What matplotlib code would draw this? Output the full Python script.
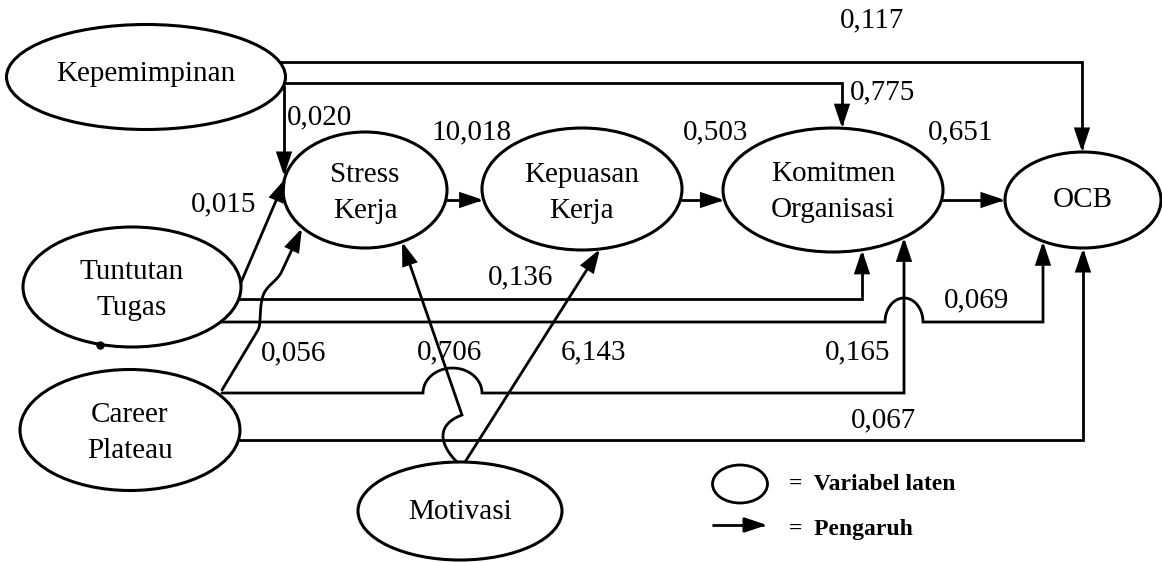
import numpy as np
import matplotlib
matplotlib.use("Agg")
import matplotlib.pyplot as plt
from matplotlib.patches import Ellipse, FancyArrowPatch, ArrowStyle
from matplotlib.path import Path

# ---------------- data ----------------
node_names = ["Kepemimpinan", "Stress\nKerja", "Kepuasan\nKerja",
              "Komitmen\nOrganisasi", "OCB", "Tuntutan\nTugas",
              "Career\nPlateau", "Motivasi"]
path_from = ["Kepemimpinan", "Kepemimpinan", "Kepemimpinan", "Tuntutan\nTugas",
             "Tuntutan\nTugas", "Tuntutan\nTugas", "Career\nPlateau",
             "Career\nPlateau", "Career\nPlateau", "Motivasi", "Motivasi",
             "Stress\nKerja", "Kepuasan\nKerja", "Komitmen\nOrganisasi"]
path_to = ["OCB", "Komitmen\nOrganisasi", "Stress\nKerja", "Stress\nKerja",
           "Komitmen\nOrganisasi", "OCB", "Stress\nKerja",
           "Komitmen\nOrganisasi", "OCB", "Stress\nKerja", "Kepuasan\nKerja",
           "Kepuasan\nKerja", "Komitmen\nOrganisasi", "OCB"]
coefficients = ["0,117", "0,775", "0,020", "0,015", "0,136", "0,069", "0,056",
                "0,165", "0,067", "0,706", "6,143", "10,018", "0,503", "0,651"]
legend_labels = ["=  Variabel laten", "=  Pengaruh"]

# ---------------- layout (pixel space) ----------------
W, H = 1162, 563
geom = {
    "Kepemimpinan": (146, 77, 279, 105),
    "Stress\nKerja": (365, 190, 164, 116),
    "Kepuasan\nKerja": (582, 189, 200, 122),
    "Komitmen\nOrganisasi": (833, 190, 220, 124),
    "OCB": (1083, 200, 156, 96),
    "Tuntutan\nTugas": (132, 287, 218, 120),
    "Career\nPlateau": (130, 430, 220, 121),
    "Motivasi": (460, 511, 204, 98),
}
text_pos = {
    "Kepemimpinan": (146, 74),
    "Stress\nKerja": (365, 193),
    "Kepuasan\nKerja": (582, 193),
    "Komitmen\nOrganisasi": (833, 192),
    "OCB": (1083, 200),
    "Tuntutan\nTugas": (132, 290),
    "Career\nPlateau": (130, 433),
    "Motivasi": (460, 512),
}


def ex(name, y, side):
    cx, cy, w, h = geom[name]
    a, b = w / 2, h / 2
    return cx + side * a * np.sqrt(max(0.0, 1 - ((y - cy) / b) ** 2))


def ey(name, x, side):
    cx, cy, w, h = geom[name]
    a, b = w / 2, h / 2
    return cy + side * b * np.sqrt(max(0.0, 1 - ((x - cx) / a) ** 2))


def jump(x0, x1, y, hgt, n=30):
    t = np.linspace(np.pi, 0, n)
    xc, hw = (x0 + x1) / 2, (x1 - x0) / 2
    return list(zip(xc + hw * np.cos(t), y - hgt * np.sin(t)))


def bez(p0, p1, p2, p3, n=30):
    t = np.linspace(0, 1, n)[:, None]
    p0, p1, p2, p3 = map(np.array, (p0, p1, p2, p3))
    pts = (1 - t) ** 3 * p0 + 3 * (1 - t) ** 2 * t * p1 + 3 * (1 - t) * t ** 2 * p2 + t ** 3 * p3
    return [tuple(p) for p in pts]


K, S, P, KO, O, T, C, M = node_names
routes = [
    [(ex(K, 62, 1), 62), (1082, 62), (1082, ey(O, 1082, -1))],
    [(ex(K, 83, 1), 83), (842, 83), (842, ey(KO, 842, -1))],
    [(284, 86), (284, 176)],
    [(ex(T, 283, 1), 283), (ex(S, 178, -1) + 1, 178)],
    [(ex(T, 299, 1), 299), (862, 299), (862, ey(KO, 862, 1))],
    [(ex(T, 322, 1), 322)] + jump(885, 923, 322, 24) + [(1043, 322), (1043, ey(O, 1043, 1))],
    [(222, 390), (258, 330)]
    + bez((258, 330), (262, 323), (258, 300), (266, 290))[1:]
    + bez((266, 290), (270, 284), (276, 281), (281, 273))[1:]
    + [(302, ey(S, 302, 1) + 1)],
    [(222, 393)] + jump(423, 482, 393, 25) + [(904, 393), (904, ey(KO, 904, 1))],
    [(ex(C, 440, 1), 440), (1083, 440), (1083, ey(O, 1083, 1))],
    bez((457, ey(M, 457, -1)), (440, 445), (435, 425), (462, 415)) + [(402, ey(S, 402, 1))],
    [(465, ey(M, 465, -1)), (600, ey(P, 600, 1))],
    [(ex(S, 200, 1), 200), (ex(P, 200, -1), 200)],
    [(ex(P, 200, 1), 200), (ex(KO, 200, -1), 200)],
    [(ex(KO, 200, 1), 200), (ex(O, 200, -1), 200)],
]
label_pos = [(872, 20), (883, 92), (320, 117), (224, 204), (521, 277),
             (977, 300), (294, 353), (858, 352), (883, 420), (450, 352),
             (593, 352), (471, 132), (716, 132), (961, 132)]

# ---------------- drawing ----------------
plt.rcParams['font.family'] = ['Liberation Serif', 'DejaVu Serif']
fig = plt.figure(figsize=(W / 100, H / 100), dpi=100)
ax = fig.add_axes([0, 0, 1, 1])
ax.set_xlim(0, W)
ax.set_ylim(H, 0)
ax.axis('off')

for name in node_names:
    cx, cy, w, h = geom[name]
    ax.add_patch(Ellipse((cx, cy), w, h, fill=False, lw=2.2, ec='black', zorder=3))
    tx, ty = text_pos[name]
    ax.text(tx, ty, name, ha='center', va='center', fontsize=21,
            linespacing=1.5, zorder=4)

style = ArrowStyle("-|>", head_length=0.9, head_width=0.3)
for src, dst, route in zip(path_from, path_to, routes):
    arr = FancyArrowPatch(path=Path(route), arrowstyle=style, mutation_scale=15,
                          lw=2.0, color='black', joinstyle='miter', zorder=2)
    ax.add_patch(arr)

for lab, (lx, ly) in zip(coefficients, label_pos):
    ax.text(lx, ly, lab, ha='center', va='center', fontsize=21, zorder=5)

# small dot on Tuntutan Tugas
ax.plot([100], [345], 'o', color='black', ms=5, zorder=5)

# legend
ax.add_patch(Ellipse((740, 484), 55, 38, fill=False, lw=2.0, ec='black'))
ax.add_patch(FancyArrowPatch(path=Path([(713, 525), (767, 525)]), arrowstyle=style,
                             mutation_scale=15, lw=2.0, color='black'))
ax.text(789, 484, legend_labels[0], ha='left', va='center', fontsize=17, fontweight='bold')
ax.text(789, 530, legend_labels[1], ha='left', va='center', fontsize=17, fontweight='bold')

fig.savefig("out.png", dpi=100)
